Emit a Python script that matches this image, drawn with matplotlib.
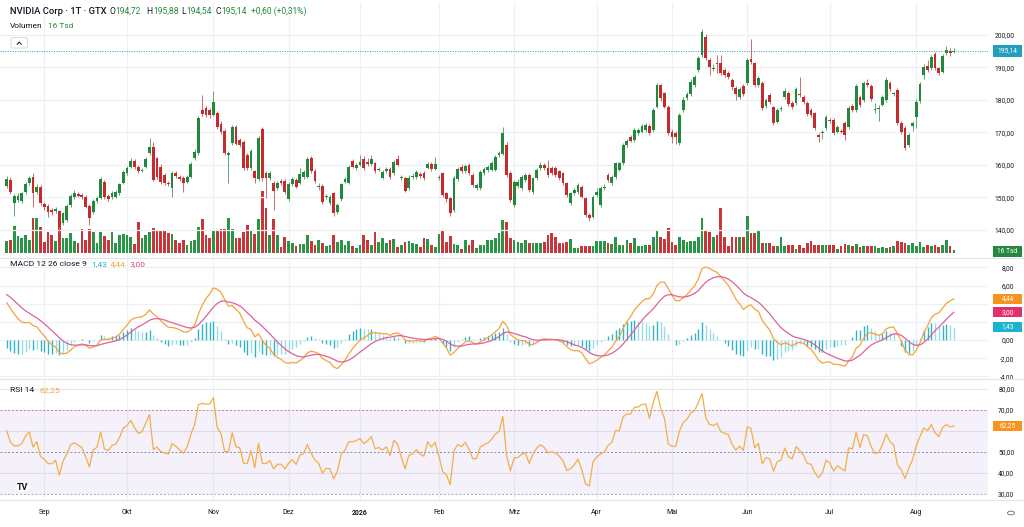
import numpy as np
import pandas as pd
import matplotlib
matplotlib.use("Agg")
import matplotlib.pyplot as plt
from matplotlib.patches import Rectangle, FancyBboxPatch, Circle
from matplotlib.transforms import blended_transform_factory as blend

plt.rcParams['font.family'] = ['Roboto', 'DejaVu Sans']

# ---------------- data ----------------
opens = [
153.6,155.4,148.4,149.2,149.0,151.8,154.4,156.4,151.8,153.3,
148.0,147.5,146.2,145.9,145.8,142.1,143.1,147.7,150.2,151.0,
150.8,150.3,147.4,145.6,149.0,149.8,154.9,150.6,150.0,150.3,
151.3,154.4,157.5,159.5,161.2,159.5,158.2,159.5,163.8,165.6,
162.0,
159.5,156.9,154.4,152.8,157.4,156.4,156.0,154.9,156.4,162.1,
163.6,176.9,177.4,176.9,175.4,175.9,172.6,170.5,163.1,166.7,
171.8,167.8,167.2,163.1,159.0,158.0,155.7,171.0,157.4,155.9,
154.4,152.8,155.1,155.1,149.5,154.0,155.4,154.4,156.4,156.4,
162.3,158.2,153.3,153.5,150.0,148.4,151.3,145.4,149.5,154.9,
154.4,161.2,159.0,160.0,161.7,160.8,160.3,160.5,158.4,156.1,
158.2,158.8,157.4,161.8,155.9,155.9,152.8,156.2,156.4,157.2,
157.4,159.2,160.2,158.8,156.0,157.4,151.3,149.7,146.2,155.7,
159.5,158.0,160.0,156.9,152.8,152.8,157.4,158.4,158.5,158.5,
163.2,163.4,166.2,157.4,147.7,153.6,152.8,155.4,156.9,151.8,
155.9,159.0,160.0,159.0,159.0,159.0,158.0,157.4,154.4,148.2,
151.3,151.8,153.3,149.7,144.6,144.1,150.8,147.7,152.8,156.9,
154.4,156.4,158.5,160.5,166.2,168.7,167.7,169.7,170.3,170.8,
172.0,170.8,177.9,184.6,182.1,177.9,170.3,169.7,166.7,176.9,
180.5,181.8,184.6,189.2,193.8,199.5,192.3,189.5,191.5,191.3,
189.2,188.4,186.2,183.6,180.8,184.3,185.1,192.5,191.3,184.6,
185.3,178.2,181.5,177.7,173.3,177.2,180.8,182.3,179.2,179.0,
182.0,181.0,179.2,176.9,175.9,169.2,169.7,171.3,173.8,173.8,
170.3,170.5,172.8,171.6,178.2,176.9,181.0,180.0,185.3,184.3,
176.9,177.3,178.5,180.0,185.3,181.8,183.1,172.8,171.3,166.2,
172.0,174.9,179.8,187.7,190.5,189.7,194.2,189.7,188.7,194.6,
195.2,194.72]

closes = [
155.7,151.8,150.5,150.6,151.3,154.2,155.9,151.3,153.3,148.2,
147.2,145.6,145.5,146.5,141.0,145.1,147.4,150.6,151.3,150.6,
150.0,147.2,143.8,148.9,149.8,155.6,150.0,149.5,151.3,151.8,
154.1,157.9,159.0,161.2,159.5,158.0,158.6,161.8,165.6,155.5,
156.4,
154.8,154.4,154.0,157.4,156.6,155.6,154.6,156.4,160.4,164.1,
174.6,175.6,175.4,175.4,179.5,171.8,170.0,163.6,163.6,171.8,
166.4,166.0,159.2,159.0,164.2,155.9,168.2,155.9,155.9,157.4,
152.1,154.4,154.4,151.8,154.1,155.7,153.3,157.1,157.9,161.8,
158.2,155.1,153.6,148.6,150.4,150.2,145.1,147.7,154.1,155.7,
159.5,159.5,160.0,160.8,159.2,160.2,161.8,158.2,158.6,157.9,
158.8,156.4,161.0,160.0,156.1,152.1,156.1,156.6,157.9,156.6,
155.9,160.2,158.8,160.2,156.2,150.8,149.5,145.1,156.1,158.8,
158.0,159.8,157.4,153.7,153.8,157.9,158.8,159.4,160.7,162.6,
163.6,170.0,156.9,149.2,154.9,154.9,156.4,156.9,152.3,155.9,
158.5,160.0,159.0,156.9,157.4,156.9,155.9,154.4,150.8,151.3,
152.3,153.8,150.3,144.6,143.6,150.3,151.8,152.8,153.3,155.4,
156.4,160.5,160.5,166.2,167.5,167.5,170.8,170.8,172.0,172.3,
169.7,176.9,184.6,180.5,177.9,169.7,168.7,168.7,175.4,180.0,
181.8,185.6,187.0,192.8,201.0,192.8,190.3,189.9,191.1,188.2,
187.7,187.2,183.9,181.8,183.3,181.8,192.3,191.8,184.6,186.7,
177.4,180.0,179.5,173.0,176.9,177.6,182.9,178.8,177.9,183.3,
181.6,179.5,175.7,175.4,171.3,168.7,170.2,174.7,173.4,169.7,
171.6,170.3,169.2,177.4,176.9,184.3,178.5,185.1,184.6,180.2,
177.2,177.6,181.0,186.2,183.3,181.9,172.8,170.3,165.1,169.2,
172.8,179.5,184.9,190.3,189.2,193.1,189.7,188.2,193.5,195.4,
194.54,195.14]

highs = [
156.6,156.2,151.0,151.4,151.8,154.8,156.6,157.6,154.0,153.8,
148.6,148.0,146.8,147.0,146.2,145.6,148.0,151.2,152.2,151.8,
151.4,150.8,147.9,149.4,150.4,156.2,155.4,151.2,151.9,152.4,
154.6,158.5,159.8,162.2,161.8,160.0,159.2,162.4,168.4,167.0,
162.6,
160.3,157.6,155.0,158.0,158.0,157.0,156.6,157.0,161.0,164.8,
175.2,181.5,178.2,177.6,182.9,176.6,173.4,171.0,164.4,172.4,
172.4,168.4,167.8,163.8,164.8,158.6,168.8,171.8,158.0,158.2,
155.0,155.0,155.8,155.6,154.8,156.4,156.0,159.0,158.6,162.4,
162.8,158.8,154.4,154.0,151.2,150.8,151.8,148.2,154.6,156.2,
160.0,161.8,160.6,163.0,162.8,162.0,163.0,161.0,159.4,158.4,
159.4,159.4,161.6,163.2,157.0,156.4,156.8,157.4,158.4,157.8,
158.0,161.0,160.8,162.6,157.0,157.9,151.8,150.2,156.6,159.4,
160.4,160.4,160.6,157.4,154.4,158.4,159.4,160.0,161.2,163.2,
164.4,171.8,167.0,158.0,155.4,155.6,157.0,157.4,157.4,156.4,
159.0,160.8,160.6,161.6,159.6,159.6,158.6,157.9,154.9,151.8,
152.8,154.4,153.8,150.2,145.2,150.8,152.8,153.4,154.0,157.4,
157.0,161.0,161.0,166.8,168.0,169.2,171.4,171.4,172.6,172.9,
172.6,177.6,185.2,185.0,182.6,178.4,171.0,170.4,176.0,180.8,
182.6,186.4,187.8,193.6,201.8,200.4,193.0,191.0,193.8,194.0,
189.8,189.0,186.8,184.2,184.0,184.9,193.0,198.7,191.8,187.4,
185.8,180.6,182.0,178.2,177.5,178.2,183.6,182.8,179.8,184.0,
187.0,181.6,179.8,177.5,176.4,169.8,170.8,175.3,174.4,174.4,
172.2,171.0,173.4,178.0,178.8,185.0,181.6,185.8,186.6,184.9,
179.0,178.4,181.6,187.0,185.9,182.6,183.6,173.4,171.9,169.8,
173.6,180.2,185.6,191.0,192.2,193.8,194.8,190.3,194.1,196.6,
196.0,195.88]

lows = [
152.8,151.2,144.4,148.6,148.4,151.2,153.8,147.2,151.0,147.6,
146.0,144.0,144.6,145.2,139.5,141.4,142.6,147.2,149.6,150.0,
149.4,146.8,141.5,145.0,148.4,149.4,149.4,149.0,149.5,149.8,
150.8,154.0,157.0,159.0,158.8,157.4,157.8,159.0,163.2,155.0,
155.8,
154.2,153.8,153.4,150.3,156.0,155.0,151.8,154.4,156.0,161.6,
163.2,175.0,174.8,174.6,175.0,171.2,169.4,163.0,154.4,166.2,
166.0,165.4,158.6,158.4,158.4,154.4,155.2,155.2,149.7,155.4,
146.2,152.2,153.8,151.2,149.0,153.4,152.8,154.0,155.8,156.0,
157.6,154.6,152.4,148.0,149.4,147.8,144.4,144.8,149.0,154.4,
154.0,159.0,158.4,159.6,158.6,159.6,159.8,157.6,158.0,155.6,
157.6,155.8,157.0,159.6,155.4,151.6,152.2,155.8,155.8,156.0,
155.4,158.8,158.2,158.4,155.4,150.2,148.6,144.2,145.6,155.2,
157.4,157.4,156.8,153.2,152.2,152.2,156.8,157.8,158.0,158.0,
162.6,163.0,156.4,148.6,147.2,153.0,152.2,154.8,151.8,151.2,
155.4,158.4,158.4,156.4,156.8,156.4,155.4,153.8,150.2,147.6,
150.8,151.2,149.8,144.0,142.8,143.6,150.2,147.2,152.2,154.8,
153.8,155.8,158.0,160.0,165.6,167.0,167.2,169.2,169.8,170.2,
169.2,170.2,177.4,179.8,177.4,169.2,166.8,166.4,166.2,176.4,
180.0,181.2,184.0,188.6,193.2,192.2,187.8,188.8,188.4,187.6,
187.0,186.6,183.2,180.0,180.2,181.2,184.6,191.2,184.0,184.0,
176.8,177.6,178.8,172.4,172.8,176.6,180.2,178.2,177.2,178.4,
181.0,178.9,175.1,174.8,170.7,167.0,168.0,170.8,172.8,169.1,
169.8,169.8,167.6,171.0,176.3,176.4,177.9,179.4,184.0,179.6,
176.0,173.6,178.0,179.4,182.7,181.2,172.2,169.6,164.6,165.6,
170.6,171.4,179.2,186.6,188.6,189.1,189.1,187.6,188.2,194.0,
193.6,194.54]

# volume in thousands of shares (Tsd)
volumes = [
74,80,160,100,90,106,80,210,210,154,
66,126,106,74,180,90,90,120,74,60,
146,80,146,126,60,126,100,80,126,60,
110,114,106,94,54,186,90,106,126,150,
140,
140,140,120,114,80,60,80,50,70,80,
154,206,110,90,140,134,146,146,210,146,
90,90,126,170,130,114,206,374,270,106,
206,106,34,94,70,60,40,54,54,110,
70,46,80,60,40,50,106,66,80,50,
70,40,30,50,106,80,50,126,66,90,
60,80,86,34,46,66,70,60,54,34,
90,86,50,34,114,134,66,100,54,50,
26,80,50,80,30,46,46,78,78,88,
118,198,188,88,78,68,62,78,62,58,
58,62,68,108,118,98,58,58,68,82,
28,28,42,42,42,42,74,74,74,62,
54,94,48,48,78,62,88,42,42,48,
48,94,134,94,82,148,68,48,94,78,
68,74,74,94,208,138,128,94,108,268,
94,42,94,94,94,94,222,118,118,134,
62,58,58,42,42,94,42,48,48,24,
48,28,62,74,48,48,48,48,48,48,
24,42,54,48,42,54,38,42,42,42,
42,28,34,28,34,42,74,68,62,48,
58,42,68,34,48,42,48,38,48,78,
42,16]

first_day, last_day = '2025-08-18', '2026-08-17'
holidays = ['2025-12-24', '2025-12-25', '2025-12-26', '2025-12-31',
            '2026-01-01', '2026-04-03', '2026-04-06', '2026-05-01']
month_labels = ['Sep', 'Okt', 'Nov', 'Dez', '2026', 'Feb', 'Mrz', 'Apr',
                'Mai', 'Jun', 'Jul', 'Aug']
price_ticks = [140, 150, 160, 170, 180, 190, 200]
macd_ticks = [-4, -2, 0, 2, 4, 6, 8]
rsi_ticks = [30, 40, 50, 60, 70, 80]
# indicator state at the first visible bar
macd_start, signal_start = 4.1, 5.0
rsi_start, rsi_scale = 60.0, 1.2
# values printed in the indicator legends
macd_legend = ['1,43', '4,44', '3,00']
rsi_legend = '62,25'
last_volume_label = '16 Tsd'

# ---------------- derived series ----------------
o = np.array(opens); c = np.array(closes); h = np.array(highs); l = np.array(lows)
v = np.array(volumes, dtype=float)
n = len(c)
x = np.arange(n)
up = c >= o

bd = pd.bdate_range(first_day, last_day)
bd = bd[~bd.isin(pd.to_datetime(holidays))]
dates = bd[:n]
month_pos = [i for i in range(1, len(dates)) if dates[i].month != dates[i - 1].month]


def ema(vals, span, start):
    a = 2.0 / (span + 1)
    out = [start]
    for val in vals[1:]:
        out.append(out[-1] + a * (val - out[-1]))
    return np.array(out)


fast = ema(c, 12, c[0])
slow = ema(c, 26, c[0] - macd_start)
macd = fast - slow
signal = ema(macd, 9, signal_start)
hist = macd - signal

ag = rsi_scale * rsi_start / (100 - rsi_start)
al = rsi_scale
rsi = [100 - 100 / (1 + ag / al)]
for i in range(1, n):
    d = c[i] - c[i - 1]
    ag = (ag * 13 + max(d, 0)) / 14
    al = (al * 13 + max(-d, 0)) / 14
    rsi.append(100 - 100 / (1 + ag / al))
rsi = np.array(rsi)

# ---------------- figure ----------------
W, H = 1024, 527
fig = plt.figure(figsize=(W / 100, H / 100), dpi=100)
fig.patch.set_facecolor('white')
renderer = fig.canvas.get_renderer()


def rect(x0, y0, x1, y1):
    return [x0 / W, 1 - y1 / H, (x1 - x0) / W, (y1 - y0) / H]


def text_w(s, fs, weight='normal'):
    t = fig.text(0, 0, s, fontsize=fs, fontweight=weight)
    w = t.get_window_extent(renderer).width
    t.remove()
    return w


def fit_size(s, target_px, weight='normal'):
    return 10.0 * target_px / text_w(s, 10, weight)


GREEN = '#22883c'
RED = '#c62a2d'
GRID = '#eef0f4'
DARK = '#131722'
step = 3.7586
x0px = 6.71
xlim = (-x0px / step, (988 - x0px) / step)

ax_v = fig.add_axes(rect(0, 2, 988, 257))
ax_p = fig.add_axes(rect(0, 2, 988, 257))
ax_m = fig.add_axes(rect(0, 259, 988, 378))
ax_r = fig.add_axes(rect(0, 380, 988, 500))
ax_v.set_zorder(1)
ax_p.set_zorder(2)
ax_p.patch.set_alpha(0)

for ax in (ax_v, ax_p, ax_m, ax_r):
    ax.set_xlim(*xlim)
    for s in ax.spines.values():
        s.set_visible(False)
    ax.set_xticks([])
    ax.tick_params(axis='y', length=0)

ax_v.set_yticks([])
ax_v.set_ylim(-24, 1506)
ax_p.set_ylim(200 - 222 / 3.25, 200 + 33 / 3.25)
ax_m.set_ylim(-(378 - 340) / 9.08, (340 - 259) / 9.08)
ax_r.set_ylim(30 - 6 / 2.106, 80 + 8.7 / 2.106)

# grids
for mp in month_pos:
    for ax in (ax_v, ax_m, ax_r):
        ax.axvline(mp, color=GRID, lw=0.9, zorder=0)
for t in price_ticks:
    ax_p.axhline(t, color=GRID, lw=0.9, zorder=0)
for t in macd_ticks:
    ax_m.axhline(t, color=GRID, lw=0.9, zorder=0)
for t in (40, 60, 80):
    ax_r.axhline(t, color='#e9e6f2', lw=0.8, zorder=0)

# volume
vol_col = np.where(up, '#2a9447', '#c8353a')
ax_v.bar(x, v, width=0.72, color=vol_col, zorder=2)

# candles
cc = np.where(up, GREEN, RED)
wick = np.where(up, '#5ea872', '#cf6a6c')
ax_p.vlines(x, l, h, colors=wick, lw=0.7, zorder=3)
body = np.maximum(np.abs(c - o), 0.3)
ax_p.bar(x, body, bottom=np.minimum(o, c), width=0.74, color=cc, zorder=4)
ax_p.axhline(c[-1], color='#2aa0bb', lw=0.7, ls=(0, (1, 1.5)), zorder=5)

# MACD
hcol = []
for i in range(n):
    grow = i == 0 or abs(hist[i]) >= abs(hist[i - 1])
    hcol.append('#2fb4c6' if grow else '#9adbe4')
ax_m.vlines(x, 0, hist, colors=hcol, lw=1.0, zorder=2)
ax_m.plot(x, macd, color='#f6a23c', lw=0.9, zorder=3)
ax_m.plot(x, signal, color='#e0609c', lw=0.9, zorder=3)

# RSI
ax_r.axhspan(30, 70, color='#7e57c2', alpha=0.08, lw=0, zorder=0)
ax_r.axhline(70, color='#c97a93', lw=0.7, ls=(0, (2, 2)), zorder=1)
ax_r.axhline(50, color='#8c82b8', lw=0.7, ls=(0, (2, 2)), zorder=1)
ax_r.axhline(30, color='#a9a3c0', lw=0.7, ls=(0, (2, 2)), zorder=1)
ax_r.plot(x, rsi, color='#f5ad4a', lw=0.9, zorder=3)


def fmt(val):
    return f"{val:.2f}".replace('.', ',')


tick_fs = fit_size('200,00', 20.0)

# value boxes on the right scale; remember their extents
boxes = []


def add_box(ax, val, text, color, hpx=10):
    yd = ax.transData.transform((0, val))[1]
    boxes.append((yd, hpx, text, color))


add_box(ax_p, c[-1], fmt(c[-1]), '#21a0bd', hpx=12)
add_box(ax_v, v[-1] - 8, last_volume_label, '#26873f', hpx=11)
add_box(ax_m, macd[-1], macd_legend[1], '#f7931e')
add_box(ax_m, signal[-1], macd_legend[2], '#e2306e')
add_box(ax_m, hist[-1], macd_legend[0], '#19b5cc')
add_box(ax_r, rsi[-1], rsi_legend, '#f7931e')

for ax, ticks in ((ax_p, price_ticks), (ax_m, macd_ticks), (ax_r, rsi_ticks)):
    ax.yaxis.tick_right()
    ax.set_yticks(ticks)
    labels = []
    for t in ticks:
        ty = ax.transData.transform((0, t))[1]
        hidden = any(abs(ty - b[0]) < b[1] / 2 + 2.5 for b in boxes)
        labels.append('' if hidden else fmt(t))
    ax.set_yticklabels(labels)
    ax.tick_params(axis='y', length=0, pad=19, labelsize=tick_fs, labelcolor=DARK)
    for lab in ax.get_yticklabels():
        lab.set_horizontalalignment('right')

for yd, hpx, text, color in boxes:
    fig.add_artist(Rectangle((993 / W, (yd - hpx / 2) / H), 29 / W, hpx / H,
                             transform=fig.transFigure, facecolor=color,
                             edgecolor='none', zorder=10))
    fig.text(1007.5 / W, yd / H, text, color='white', ha='center', va='center',
             fontsize=tick_fs, zorder=11)

# pane separators
for yy in (258, 379, 500):
    fig.add_artist(plt.Line2D([0, 1], [1 - yy / H, 1 - yy / H], color='#e0e3eb',
                              lw=0.8, zorder=9))

# x labels
xl_fs = fit_size('Sep', 11.5)
tr = blend(ax_r.transData, fig.transFigure)
for mp, lab in zip(month_pos, month_labels):
    ax_r.text(mp, 1 - 513 / H, lab, transform=tr, ha='center', va='center',
              fontsize=xl_fs, color=DARK, fontweight='bold' if lab.isdigit() else 'normal',
              clip_on=False)

# header line
chg = c[-1] - c[-2]
pct = chg / c[-2] * 100
title = 'NVIDIA Corp · 1T · GTX'
title_fs = fit_size(title, 96.0, 'medium')
val_fs = fit_size(fmt(c[-1]), 25.5)
ytop = 1 - 11 / H
fig.text(10 / W, ytop, title, color=DARK, fontsize=title_fs, fontweight='medium', va='center')
groups = [(109.3, 'O', fmt(o[-1])), (146.5, 'H', fmt(h[-1])),
          (181.7, 'L', fmt(l[-1])), (215.3, 'C', fmt(c[-1]))]
for px, letter, val in groups:
    fig.text(px / W, ytop, letter, color=DARK, fontsize=val_fs, va='center')
    lw_ = text_w(letter, val_fs)
    fig.text((px + lw_ + 0.3) / W, ytop, val, color=GREEN, fontsize=val_fs, va='center')
fig.text(250.7 / W, ytop, f"+{fmt(chg)} (+{fmt(pct)}%)", color=GREEN, fontsize=val_fs,
         va='center')

sub_fs = fit_size('Volumen', 32.5)
fig.text(10 / W, 1 - 26 / H, 'Volumen', color=DARK, fontsize=sub_fs, va='center')
fig.text(48 / W, 1 - 26 / H, last_volume_label, color=GREEN, fontsize=sub_fs, va='center')
fig.add_artist(FancyBboxPatch((11 / W, 1 - 48 / H), 16.5 / W, 10.5 / H,
                              boxstyle='round,pad=0,rounding_size=0.003',
                              transform=fig.transFigure, facecolor='white',
                              edgecolor='#d5d8df', lw=0.7, zorder=20))
fig.add_artist(plt.Line2D([17.2 / W, 19.2 / W, 21.2 / W],
                          [1 - 44.3 / H, 1 - 42.0 / H, 1 - 44.3 / H],
                          color=DARK, lw=0.7, zorder=21))

ind_fs = fit_size('MACD 12 26 close 9', 76.0)
fig.text(10 / W, 1 - 264 / H, 'MACD 12 26 close 9', color=DARK, fontsize=ind_fs, va='center')
fig.text(91 / W, 1 - 264 / H, macd_legend[0], color='#22b5c8', fontsize=ind_fs, va='center')
fig.text(110 / W, 1 - 264 / H, macd_legend[1], color='#f5a33b', fontsize=ind_fs, va='center')
fig.text(129.3 / W, 1 - 264 / H, macd_legend[2], color='#e2457f', fontsize=ind_fs, va='center')
fig.text(10 / W, 1 - 390 / H, 'RSI 14', color=DARK, fontsize=ind_fs, va='center')
fig.text(39 / W, 1 - 390 / H, rsi_legend, color='#f5a33b', fontsize=ind_fs, va='center')

# logo and settings icon
fig.add_artist(Circle((22.7 / W, 1 - 488 / H), 9 / W, transform=fig.transFigure,
                      facecolor='white', edgecolor='#eceef2', lw=0.6, zorder=12))
fig.text(22.7 / W, 1 - 488 / H, 'TV', color=DARK, fontsize=6.5, fontweight='bold',
         ha='center', va='center', zorder=13)
fig.add_artist(Circle((1011 / W, 1 - 513 / H), 3.5 / W, transform=fig.transFigure,
                      facecolor='none', edgecolor='#787b86', lw=0.7, zorder=12))

fig.savefig('out.png', dpi=100, facecolor='white')
